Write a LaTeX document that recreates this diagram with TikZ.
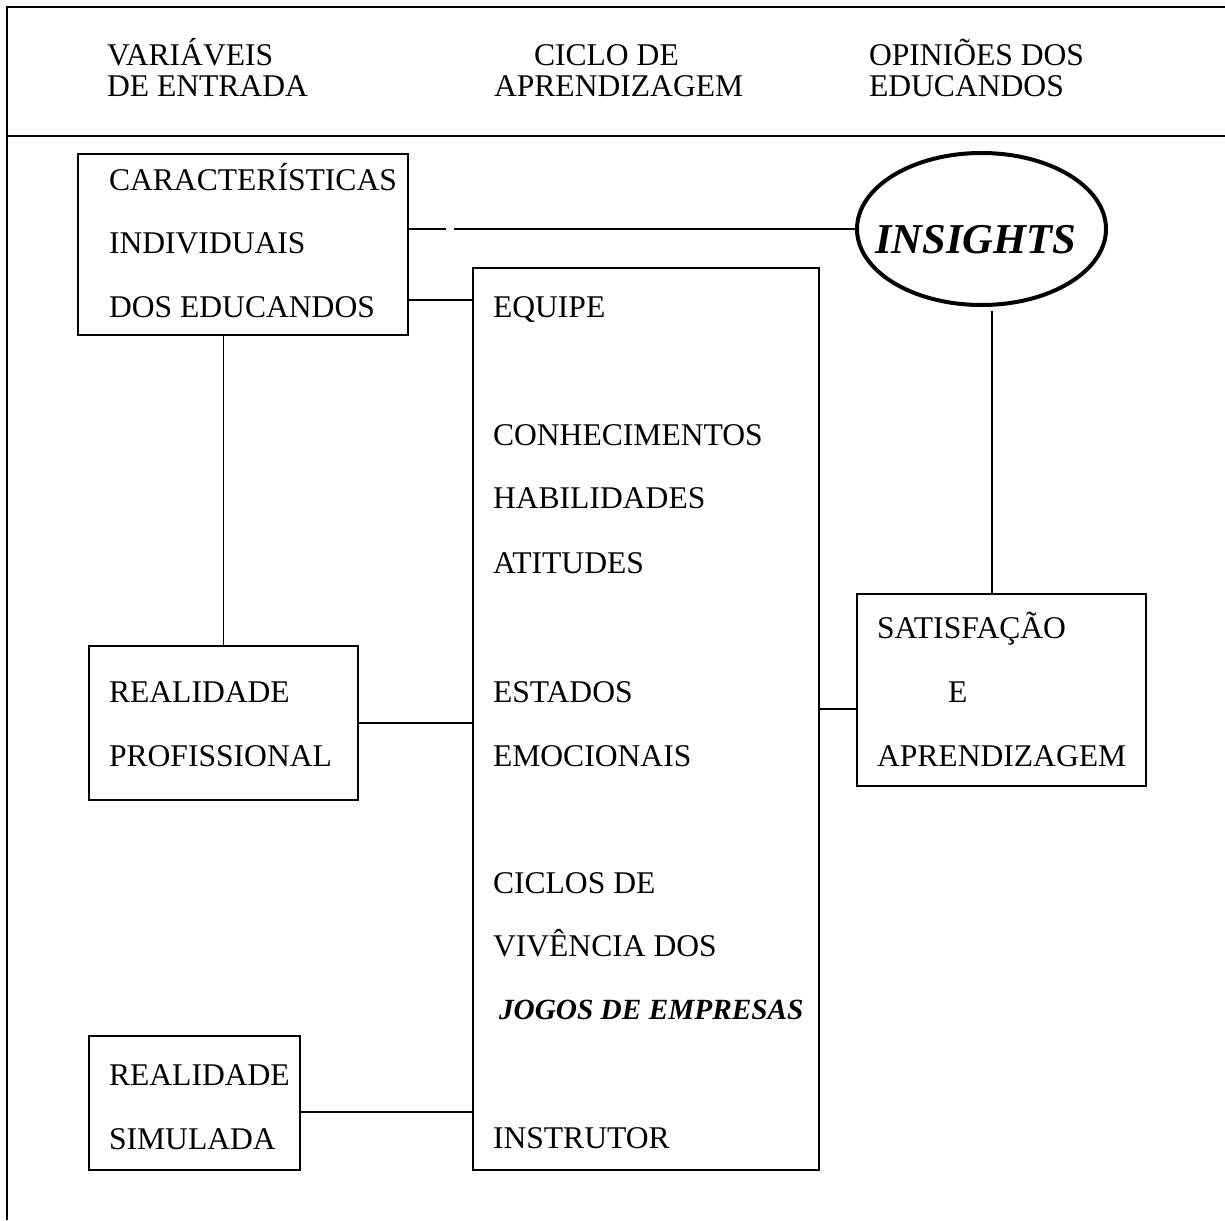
\documentclass[tikz,border=0pt]{standalone}
\usepackage{fontspec}
\setmainfont{Liberation Serif}
\usetikzlibrary{shapes.geometric}
\begin{document}
\begin{tikzpicture}[x=1pt,y=-1pt,
  box/.style={draw, line width=2.2pt, inner sep=0pt, outer sep=0pt},
  lbl/.style={anchor=base west, inner sep=0pt, outer sep=0pt, font=\fontsize{31.6}{38}\selectfont},
  bilbl/.style={lbl, font=\fontsize{29.3}{35}\selectfont\bfseries\itshape},
  thinln/.style={line width=1.1pt},
  conn/.style={line width=1.8pt},
  frame/.style={line width=2.4pt}]
\useasboundingbox (0,0) rectangle (1225,1220);
% frame
\draw[frame] (7,1220) -- (7,7) -- (1225,7);
\draw[frame] (7,136) -- (1225,136);
% header
\node[lbl] (h1a) at (107,66) {VARIÁVEIS};
\node[lbl] (h1b) at (107,97) {DE ENTRADA};
\node[lbl] (h2a) at (534,66) {CICLO DE};
\node[lbl] (h2b) at (494,97) {APRENDIZAGEM};
\node[lbl] (h3a) at (869,66) {OPINIÕES DOS};
\node[lbl] (h3b) at (869,97) {EDUCANDOS};
% boxes
\node[box, minimum width=330, minimum height=181] (b1) at (243,244.5) {};
\node[box, minimum width=346, minimum height=902] (b2) at (646,719) {};
\node[box, minimum width=269, minimum height=154] (rp) at (223.5,723) {};
\node[box, minimum width=211, minimum height=134] (rs) at (194.5,1103) {};
\node[box, minimum width=289, minimum height=192] (sat) at (1001.5,690) {};
\node[draw, ellipse, line width=4pt, inner sep=0pt, outer sep=0pt, minimum width=249, minimum height=152] (ins) at (981.5,229) {};
% texts
\node[lbl] (t1) at (109,190) {CARACTERÍSTICAS};
\node[lbl] (t2) at (109,253) {INDIVIDUAIS};
\node[lbl] (t3) at (109,317) {DOS EDUCANDOS};
\node[lbl] (c1) at (493,317) {EQUIPE};
\node[lbl] (c2) at (493,445) {CONHECIMENTOS};
\node[lbl] (c3) at (493,508) {HABILIDADES};
\node[lbl] (c4) at (493,573) {ATITUDES};
\node[lbl] (c5) at (493,702) {ESTADOS};
\node[lbl] (c6) at (493,766) {EMOCIONAIS};
\node[lbl] (c7) at (493,893) {CICLOS DE};
\node[lbl] (c8) at (493,956) {VIVÊNCIA DOS};
\node[bilbl] (c9) at (499,1019) {JOGOS DE EMPRESAS};
\node[lbl] (c10) at (493,1148) {INSTRUTOR};
\node[lbl] (r1) at (109,702) {REALIDADE};
\node[lbl] (r2) at (109,766) {PROFISSIONAL};
\node[lbl] (s1) at (109,1085) {REALIDADE};
\node[lbl] (s2) at (109,1149) {SIMULADA};
\node[lbl] (a1) at (877,638) {SATISFAÇÃO};
\node[lbl] (a2) at (948,702) {E};
\node[lbl] (a3) at (877,766) {APRENDIZAGEM};
\node[anchor=base west, inner sep=0pt, font=\fontsize{42.5}{50}\selectfont\bfseries\itshape] (it) at (875,253) {INSIGHTS};
% connectors
\coordinate (gap) at (446,229);
\draw[thinln] (b1.east |- ins.west) -- (gap);
\draw[thinln] ([xshift=8pt]gap) -- (ins.west);
\draw[conn] (b1.east |- 0,300) -- (b2.west |- 0,300);
\draw[thinln] (rp.north |- b1.south) -- (rp.north);
\draw[conn] (rp.east) -- (rp.east -| b2.west);
\draw[conn] (b2.east |- 0,709) -- (sat.west |- 0,709);
\coordinate (insb) at (992,311);
\draw[thinln] (insb) -- (sat.north -| insb);
\draw[conn] (rs.east |- 0,1112) -- (b2.west |- 0,1112);
\end{tikzpicture}
\end{document}
